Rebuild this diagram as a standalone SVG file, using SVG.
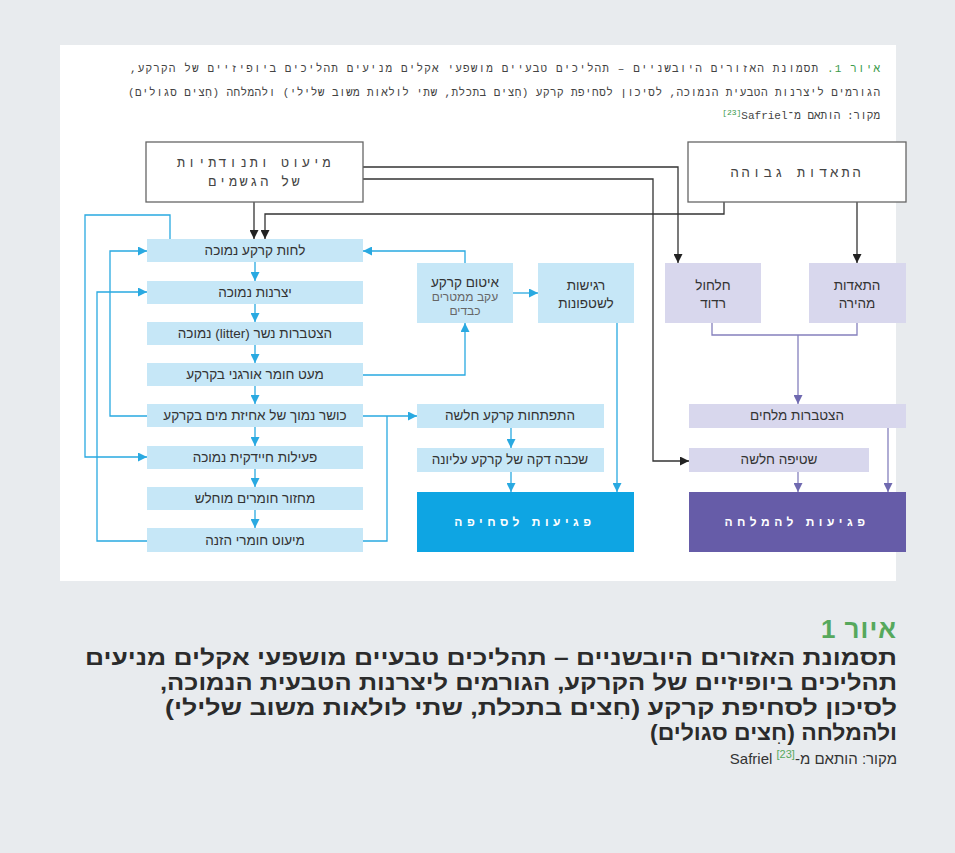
<svg xmlns="http://www.w3.org/2000/svg" width="955" height="853" viewBox="0 0 955 853">
<style>
.t{font-family:"Liberation Sans","DejaVu Sans",sans-serif;direction:rtl;text-anchor:middle;fill:#333;font-size:13.5px}
.r{direction:rtl;text-anchor:start}
.mono{font-family:"Liberation Mono","DejaVu Sans Mono",monospace;fill:#444}
.hd{font-size:11px;fill:#444}
.lb{fill:#c6e7f7}
.lv{fill:#d8d7ed}
.bk{fill:none;stroke:#333;stroke-width:1.3}
.bl{fill:none;stroke:#29a9e1;stroke-width:1.3}
.pu{fill:none;stroke:#8580bd;stroke-width:1.3}
.wb{fill:#fff;stroke:#666;stroke-width:1.3}
.big{fill:#fff;font-size:12px;font-weight:bold;letter-spacing:4.5px}
.cap{font-family:"Liberation Sans","DejaVu Sans",sans-serif;font-weight:bold;fill:#2b2b2b;font-size:22px}
.grn{fill:#3a9a4a}
.sub{fill:#666;font-size:12px}
</style>
<defs>
<marker id="ak" viewBox="0 0 10 10" refX="10" refY="5" markerWidth="9" markerHeight="9" markerUnits="userSpaceOnUse" orient="auto"><path d="M0,0 L10,5 L0,10 z" fill="#222"/></marker>
<marker id="ab" viewBox="0 0 10 10" refX="10" refY="5" markerWidth="10" markerHeight="9" markerUnits="userSpaceOnUse" orient="auto"><path d="M0,0 L10,5 L0,10 z" fill="#29a9e1"/></marker>
<marker id="ap" viewBox="0 0 10 10" refX="10" refY="5" markerWidth="10" markerHeight="9" markerUnits="userSpaceOnUse" orient="auto"><path d="M0,0 L10,5 L0,10 z" fill="#6f69b0"/></marker>
</defs>
<rect x="0" y="0" width="955" height="853" fill="#e8ebee"/>
<rect x="60" y="45" width="836" height="536" fill="#fff"/>

<g id="header">
<text class="mono hd r" x="880" y="72" textLength="750" lengthAdjust="spacing"><tspan class="grn">איור 1.</tspan> תסמונת האזורים היובשניים – תהליכים טבעיים מושפעי אקלים מניעים תהליכים ביופיזיים של הקרקע,</text>
<text class="mono hd r" x="880" y="96" textLength="752" lengthAdjust="spacing">הגורמים ליצרנות הטבעית הנמוכה, לסיכון לסחיפת קרקע (חִצים בתכלת, שתי לולאות משוב שלילי) ולהמלחה (חִצים סגולים)</text>
<text class="mono hd r" x="880" y="119">מקור: הותאם מ־Safriel&#x200F;<tspan class="grn" font-size="8" dy="-4">[23]</tspan></text>
</g>

<g id="connectors">
<path class="bk" d="M254,202 V239" marker-end="url(#ak)"/>
<path class="bk" d="M724,202 V214 H265 V239" marker-end="url(#ak)"/>
<path class="bk" d="M363,167 H678 V263" marker-end="url(#ak)"/>
<path class="bk" d="M363,179 H653 V461 H689" marker-end="url(#ak)"/>
<path class="bk" d="M857,202 V263" marker-end="url(#ak)"/>

<path class="bl" d="M255,262 V281" marker-end="url(#ab)"/>
<path class="bl" d="M255,304 V322" marker-end="url(#ab)"/>
<path class="bl" d="M255,345 V363" marker-end="url(#ab)"/>
<path class="bl" d="M255,386 V404" marker-end="url(#ab)"/>
<path class="bl" d="M255,427 V446" marker-end="url(#ab)"/>
<path class="bl" d="M255,469 V487" marker-end="url(#ab)"/>
<path class="bl" d="M255,510 V528" marker-end="url(#ab)"/>
<path class="bl" d="M170,239 V215 H85 V457 H147" marker-end="url(#ab)"/>
<path class="bl" d="M147,541 H97 V292 H147" marker-end="url(#ab)"/>
<path class="bl" d="M147,416 H110 V251 H147" marker-end="url(#ab)"/>
<path class="bl" d="M465,263 V251 H363" marker-end="url(#ab)"/>
<path class="bl" d="M363,375 H465 V323" marker-end="url(#ab)"/>
<path class="bl" d="M513,293 H538" marker-end="url(#ab)"/>
<path class="bl" d="M617,323 V492" marker-end="url(#ab)"/>
<path class="bl" d="M363,416 H417" marker-end="url(#ab)"/>
<path class="bl" d="M363,541 H387 V416"/>
<path class="bl" d="M511,428 V448" marker-end="url(#ab)"/>
<path class="bl" d="M511,472 V492" marker-end="url(#ab)"/>

<path class="pu" d="M712,323 V335 H857 V323 M798,335 V404" marker-end="url(#ap)"/>
<path class="pu" d="M888,428 V492" marker-end="url(#ap)"/>
<path class="pu" d="M798,472 V492" marker-end="url(#ap)"/>
</g>

<g id="rain"><rect class="wb" x="146" y="142" width="217" height="60"/>
<text class="t mono" x="255" y="167" font-size="12" letter-spacing="2.3">מיעוט ותנודתיות</text>
<text class="t mono" x="255" y="186" font-size="12" letter-spacing="2.3">של הגשמים</text></g>
<g id="evap"><rect class="wb" x="688" y="142" width="218" height="60"/>
<text class="t mono" x="797" y="177" font-size="12" letter-spacing="3">התאדות גבוהה</text></g>

<g id="n1"><rect class="lb" x="147" y="239" width="216" height="23"/><text class="t" x="255" y="255">לחות קרקע נמוכה</text></g>
<g id="n2"><rect class="lb" x="147" y="281" width="216" height="23"/><text class="t" x="255" y="297">יצרנות נמוכה</text></g>
<g id="n3"><rect class="lb" x="147" y="322" width="216" height="23"/><text class="t" x="255" y="338">הצטברות נשר (litter) נמוכה</text></g>
<g id="n4"><rect class="lb" x="147" y="363" width="216" height="23"/><text class="t" x="255" y="379">מעט חומר אורגני בקרקע</text></g>
<g id="n5"><rect class="lb" x="147" y="404" width="216" height="23"/><text class="t" x="255" y="420">כושר נמוך של אחיזת מים בקרקע</text></g>
<g id="n6"><rect class="lb" x="147" y="446" width="216" height="23"/><text class="t" x="255" y="462">פעילות חיידקית נמוכה</text></g>
<g id="n7"><rect class="lb" x="147" y="487" width="216" height="23"/><text class="t" x="255" y="503">מחזור חומרים מוחלש</text></g>
<g id="n8"><rect class="lb" x="147" y="528" width="216" height="24"/><text class="t" x="255" y="545">מיעוט חומרי הזנה</text></g>

<g id="seal"><rect class="lb" x="417" y="263" width="96" height="60"/>
<text class="t" x="465" y="287" font-size="14">איטום קרקע</text>
<text class="t sub" x="465" y="301">עקב ממטרים</text>
<text class="t sub" x="465" y="315">כבדים</text></g>
<g id="flood"><rect class="lb" x="538" y="263" width="96" height="60"/>
<text class="t" x="586" y="290" font-size="14">רגישות</text>
<text class="t" x="586" y="308" font-size="14">לשטפונות</text></g>
<g id="perc"><rect class="lv" x="665" y="263" width="96" height="60"/>
<text class="t" x="713" y="290" font-size="14">חלחול</text>
<text class="t" x="713" y="308" font-size="14">רדוד</text></g>
<g id="fastevap"><rect class="lv" x="809" y="263" width="97" height="60"/>
<text class="t" x="857" y="290" font-size="14">התאדות</text>
<text class="t" x="857" y="308" font-size="14">מהירה</text></g>

<g id="weaksoil"><rect class="lb" x="417" y="404" width="187" height="24"/><text class="t" x="510" y="420">התפתחות קרקע חלשה</text></g>
<g id="thin"><rect class="lb" x="417" y="448" width="187" height="24"/><text class="t" x="510" y="464">שכבה דקה של קרקע עליונה</text></g>
<g id="erosion"><rect x="417" y="492" width="217" height="60" fill="#0ea5e3"/><text class="t big" x="525" y="526">פגיעות לסחיפה</text></g>

<g id="salt"><rect class="lv" x="689" y="404" width="217" height="24"/><text class="t" x="797" y="420">הצטברות מלחים</text></g>
<g id="leach"><rect class="lv" x="689" y="448" width="180" height="24"/><text class="t" x="779" y="464">שטיפה חלשה</text></g>
<g id="salin"><rect x="689" y="492" width="217" height="60" fill="#665ca8"/><text class="t big" x="797" y="526">פגיעות להמלחה</text></g>

<g id="caption">
<text class="cap r" x="897" y="638" style="fill:#56a85c;font-size:26px;letter-spacing:1px">איור 1</text>
<text class="cap r" x="897" y="665" textLength="812" lengthAdjust="spacingAndGlyphs">תסמונת האזורים היובשניים – תהליכים טבעיים מושפעי אקלים מניעים</text>
<text class="cap r" x="897" y="690" textLength="737" lengthAdjust="spacingAndGlyphs">תהליכים ביופיזיים של הקרקע, הגורמים ליצרנות הטבעית הנמוכה,</text>
<text class="cap r" x="897" y="715" textLength="732" lengthAdjust="spacingAndGlyphs">לסיכון לסחיפת קרקע (חִצים בתכלת, שתי לולאות משוב שלילי)</text>
<text class="cap r" x="897" y="740" textLength="247" lengthAdjust="spacingAndGlyphs">ולהמלחה (חִצים סגולים)</text>
<text class="t r" x="897" y="764" style="font-size:15px;fill:#333">מקור: הותאם מ-<tspan style="fill:#56a85c;font-size:11px" dy="-6">[23]</tspan><tspan dy="6"> Safriel</tspan></text>
</g>
</svg>
